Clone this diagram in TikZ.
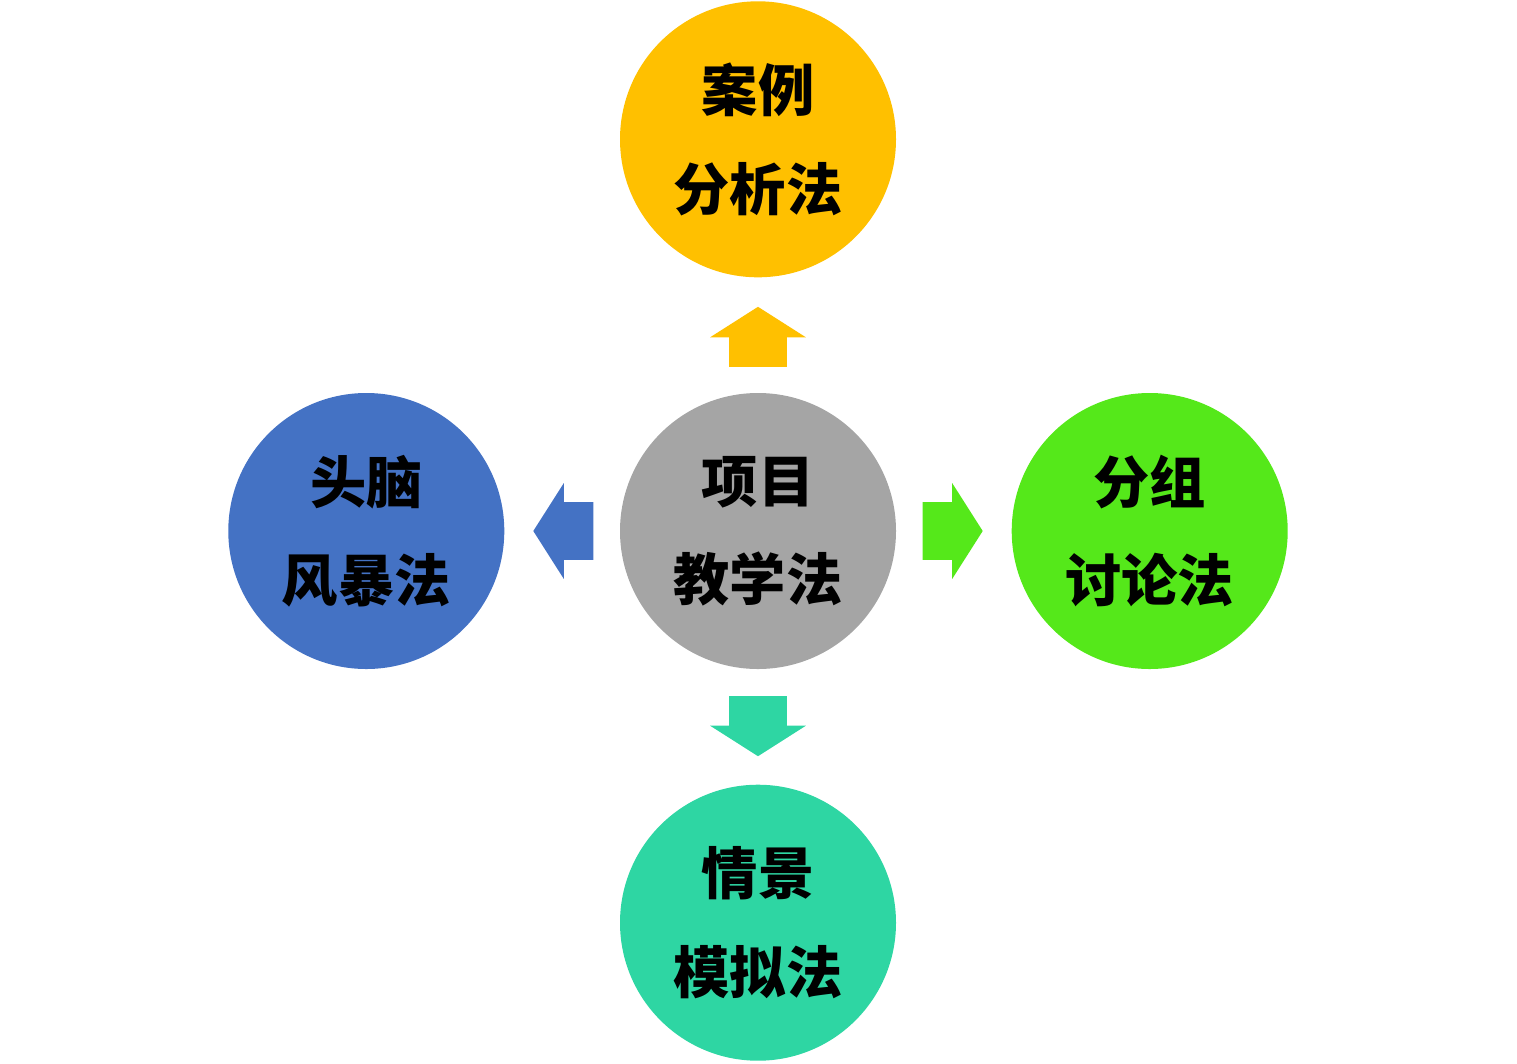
\documentclass[tikz,border=0pt]{standalone}
\usepackage{fontspec}
\newfontfamily\cjk{Noto Sans CJK SC}
\usepackage{tikz}
\usetikzlibrary{shapes,arrows}
\usetikzlibrary{positioning}
\usetikzlibrary{calc}

\definecolor{aranyc}{HTML}{FFC000}
\definecolor{szurkec}{HTML}{A5A5A5}
\definecolor{kekc}{HTML}{4472C4}
\definecolor{zoldc}{HTML}{55E81A}
\definecolor{turkizc}{HTML}{2ED6A3}

\begin{document}
\begin{tikzpicture}[x=0.2mm,y=-0.2mm,
	modszer/.style={circle,minimum size=55.2mm,inner sep=0pt,align=center,
		font=\cjk\bfseries\fontsize{32}{56}\selectfont},
	nyil/.style={single arrow,minimum height=12mm,inner xsep=0pt,inner ysep=5.7mm,
		single arrow head extend=3.8mm,single arrow tip angle=115,
		single arrow head indent=0pt,anchor=tail},
	node distance=23mm]

	\useasboundingbox (0,0) rectangle (1517,1063);

	% Kozepso modszer
	% ----------
	\node[modszer,fill=szurkec] (projekt) at (758,531) {项目\\教学法};

	% a kozepso kor korul
	\node[modszer,fill=aranyc,above=of projekt] (eset) {案例\\分析法};
	\node[modszer,fill=kekc,left=of projekt] (otlet) {头脑\\风暴法};
	\node[modszer,fill=zoldc,right=of projekt] (csoport) {分组\\讨论法};
	\node[modszer,fill=turkizc,below=of projekt] (szituacio) {情景\\模拟法};

	% nyilak
	\node[nyil,fill=aranyc,rotate=90] (nyilFel) at ($(projekt.north)!5.1mm!(eset.south)$) {};
	\node[nyil,fill=kekc,rotate=180] (nyilBal) at ($(projekt.west)!5.2mm!(otlet.east)$) {};
	\node[nyil,fill=zoldc] (nyilJobb) at ($(projekt.east)!5.2mm!(csoport.west)$) {};
	\node[nyil,fill=turkizc,rotate=-90] (nyilLe) at ($(projekt.south)!5.3mm!(szituacio.north)$) {};

\end{tikzpicture}
\end{document}
